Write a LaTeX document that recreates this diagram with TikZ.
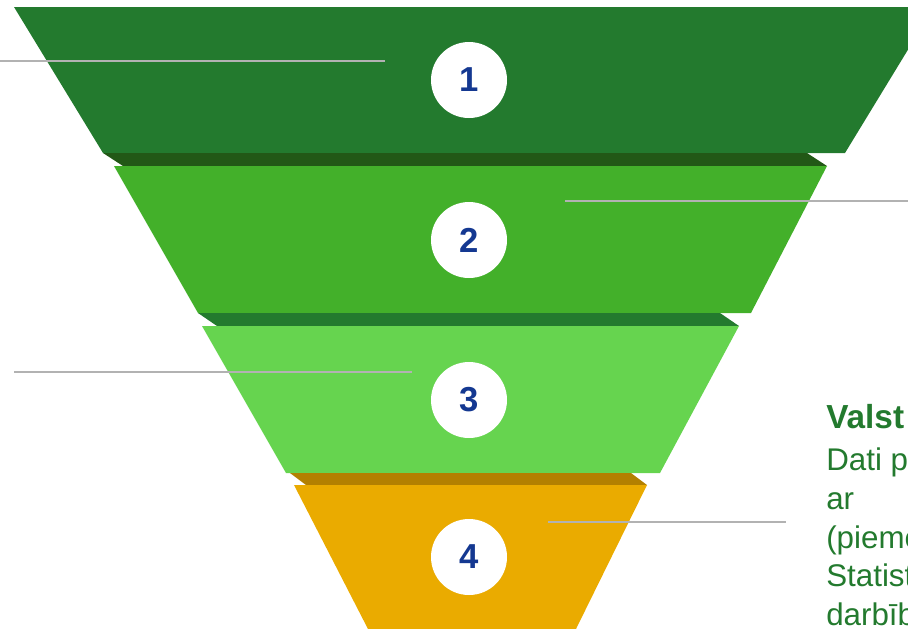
\documentclass[tikz,border=0pt]{standalone}
\usepackage{fontspec}
\setmainfont{Liberation Sans}
\definecolor{layerA}{RGB}{35,122,46}
\definecolor{shadeA}{RGB}{34,88,22}
\definecolor{layerB}{RGB}{67,176,42}
\definecolor{layerC}{RGB}{102,212,79}
\definecolor{shadeC}{RGB}{179,128,0}
\definecolor{layerD}{RGB}{234,171,0}
\definecolor{numblue}{RGB}{20,56,145}
\definecolor{leader}{RGB}{178,178,178}
\begin{document}
\begin{tikzpicture}[
                x=0.75pt, y=-0.75pt,
                stepnum/.style={circle, fill=white, minimum size=57pt, inner sep=0pt,
                    font=\fontsize{26}{26}\selectfont\bfseries, text=numblue},
                leaderline/.style={draw=leader, line width=1.1pt},
                notetext/.style={anchor=north west, align=left, inner sep=0pt,
                    text=layerA, font=\fontsize{23.5}{28.9}\selectfont}
            ]

            \useasboundingbox (0,0) rectangle (908,629);

            % Funnel layers
            \fill[layerA] (14,7) -- (934,7) -- (845,153) -- (103,153) -- cycle;
            \fill[shadeA] (103,153) -- (807,153) -- (827,166) -- (123,166) -- cycle;
            \fill[layerB] (114,166) -- (827,166) -- (751,313) -- (198,313) -- cycle;
            \fill[layerA] (198,313) -- (720,313) -- (739,326) -- (217,326) -- cycle;
            \fill[layerC] (202,326) -- (739,326) -- (660,473) -- (286,473) -- cycle;
            \fill[shadeC] (290,473) -- (631,473) -- (647,485) -- (306,485) -- cycle;
            \fill[layerD] (294,485) -- (647,485) -- (576,629) -- (368,629) -- cycle;

            % Leader lines
            \coordinate (l1a) at (0,61);    \coordinate (l1b) at (385,61);
            \coordinate (l2a) at (565,201); \coordinate (l2b) at (908,201);
            \coordinate (l3a) at (14,372);  \coordinate (l3b) at (412,372);
            \coordinate (l4a) at (548,522); \coordinate (l4b) at (786,522);
            \draw[leaderline] (l1a) -- (l1b);
            \draw[leaderline] (l2a) -- (l2b);
            \draw[leaderline] (l3a) -- (l3b);
            \draw[leaderline] (l4a) -- (l4b);

            % Step numbers
            \node[stepnum] (n1) at (469,80) {1};
            \node[stepnum] (n2) at (469,240) {2};
            \node[stepnum] (n3) at (469,400) {3};
            \node[stepnum] (n4) at (469,557) {4};

            % Note at the right
            \node[notetext] (note) at (826,404)
                {{\fontsize{25}{28.9}\selectfont\bfseries Valst}\\[3pt]Dati p\\ar\\(pieme\\Statist\\darbīb};

            \end{tikzpicture}
\end{document}
